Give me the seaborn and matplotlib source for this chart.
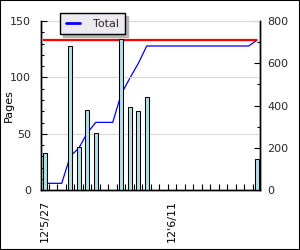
import matplotlib
matplotlib.use("Agg")
import matplotlib.pyplot as plt
import seaborn as sns
import pandas as pd
import numpy as np
from matplotlib.patches import Rectangle
from matplotlib.lines import Line2D

# ---- data ----
start_date = "2012-05-27"
bar_dates = ["2012-05-27", "2012-05-30", "2012-05-31", "2012-06-01", "2012-06-02",
             "2012-06-05", "2012-06-06", "2012-06-07", "2012-06-08", "2012-06-21"]
pages = [33, 128, 38, 71, 51, 134, 74, 70, 83, 28]
label_dates = ["2012-05-27", "2012-06-11"]
tick_labels = ["12'5/27", "12'6/11"]
series_name = "Total"

sns.set_theme(style="white")
plt.rcParams['font.family'] = ['DejaVu Sans']

start = pd.Timestamp(start_date)
df = pd.DataFrame({"date": pd.to_datetime(bar_dates), "pages": pages})
df["day"] = (df["date"] - start).dt.days
days_all = pd.RangeIndex(0, int(df["day"].max()) + 1)
daily = df.set_index("day")["pages"].reindex(days_all, fill_value=0)
cum = pd.DataFrame({"day": np.asarray(days_all), "total": daily.cumsum().values})
grand_total = int(cum["total"].iloc[-1])

fig = plt.figure(figsize=(3, 2.5), dpi=100)
fig.patch.set_facecolor("white")
ax = fig.add_axes([41 / 300, 1 - 190.3 / 250, 219 / 300, 169.3 / 250])
ax2 = ax.twinx()
ax.set_zorder(ax2.get_zorder() + 1)
ax.patch.set_visible(False)
ax2.patch.set_facecolor("white")

# cumulative line + total line on right axis (behind bars)
sns.lineplot(data=cum, x="day", y="total", ax=ax2, color="#0000ff", lw=0.9, legend=False)
ax2.plot([cum["day"].iloc[0] - 0.2, cum["day"].iloc[-1]], [grand_total, grand_total],
         color="#ff0000", lw=1.6, solid_capstyle="butt")

# bars on left axis
sns.barplot(data=df, x="day", y="pages", native_scale=True, width=0.47,
            color="#b0e0e6", saturation=1, edgecolor="black", linewidth=0.75, ax=ax)

ax.set_xlim(-0.44, 25.33)
ax.set_ylim(0, 150)
ax2.set_ylim(0, 800)

label_pos = [(pd.Timestamp(d) - start).days for d in label_dates]
ax.set_xticks(label_pos)
ax.set_xticklabels(tick_labels, rotation=90, fontsize=8, color="black")
ax.set_xticks(np.arange(0.5, days_all[-1], 1.0), minor=True)
ax.tick_params(axis="x", which="major", length=0, pad=7)
ax.tick_params(axis="x", which="minor", direction="in", length=4, width=0.8, color="black", bottom=True)
ax.set_xlabel("")

ax.set_yticks([0, 50, 100, 150])
ax.set_yticks(np.arange(0, 151, 10), minor=True)
ax.tick_params(axis="y", which="major", direction="in", length=4.5, width=0.8, pad=7,
               labelsize=8, color="black", left=True)
ax.tick_params(axis="y", which="minor", direction="in", length=2.5, width=0.8, color="black", left=True)
ax.set_ylabel("Pages", fontsize=8, color="black")
ax.yaxis.set_label_coords(-0.125, 0.5)

ax2.set_yticks([0, 200, 400, 600, 800])
ax2.set_yticks(np.arange(0, 801, 100), minor=True)
ax2.tick_params(axis="y", which="major", direction="in", length=4.5, width=0.8, pad=5,
                labelsize=8, color="black", right=True)
ax2.tick_params(axis="y", which="minor", direction="in", length=2.5, width=0.8, color="black", right=True)
ax2.set_ylabel("")

ax.yaxis.grid(True, color="#d8d8d8", lw=0.8)
ax.set_axisbelow(True)

for a in (ax, ax2):
    a.spines["top"].set_visible(False)
    for s in ("left", "bottom", "right"):
        a.spines[s].set_color("black")
        a.spines[s].set_linewidth(1.0)

fig.legend(handles=[Line2D([], [], color="#0000ff", lw=2)], labels=[series_name],
           loc="upper left", bbox_to_anchor=(60 / 300, 1 - 13.3 / 250), borderaxespad=0,
           frameon=True, fancybox=False, shadow={"color": "#b4b4b4", "alpha": 1},
           facecolor="#ece9f0", edgecolor="black", framealpha=1, fontsize=8,
           handlelength=1.3, handletextpad=1.2, borderpad=0.5)

fig.patches.append(Rectangle((0, 0), 1, 1, transform=fig.transFigure, fill=False,
                             edgecolor="black", lw=1.5))

fig.savefig("out.png", dpi=100)
